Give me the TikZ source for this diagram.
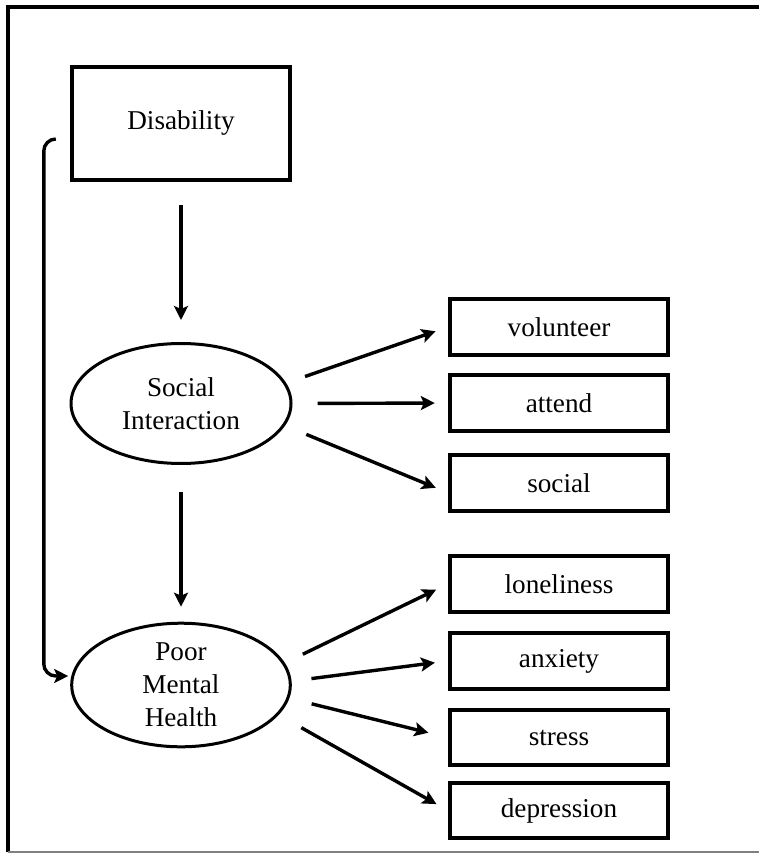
\documentclass[tikz,border=0pt]{standalone}
\usepackage{fontspec}
\setmainfont{Liberation Serif}
\usetikzlibrary{arrows.meta}
\usetikzlibrary{shapes.geometric}
\usetikzlibrary{positioning}

\begin{document}
\begin{tikzpicture}
  [
    x=0.5pt, y=-0.5pt,
    line width=1.7pt,
    >={Stealth[length=7pt,width=7pt,inset=1.5pt]},
    factor/.style    = {draw, rectangle, minimum width=109.3pt, minimum height=56.8pt, inner sep=0pt, line width=1.9pt},
    latent/.style    = {draw, ellipse, minimum width=110pt, minimum height=60pt, inner sep=0pt, align=center, line width=1.5pt},
    indicator/.style = {draw, rectangle, minimum width=109.3pt, minimum height=27.8pt, inner sep=0pt, line width=1.9pt},
    effect/.style    = {->, shorten <=10pt, shorten >=6.5pt},
  ]

  \tikzstyle{every node}=[font=\fontsize{13.6}{16.5}\selectfont]

  % the frame
  \def\fl{8}
  \def\ft{7}
  \useasboundingbox (0,0) rectangle (759,854);
  \draw[line width=2pt] (\fl,\ft) -- (759,\ft);
  \draw[line width=2pt] (\fl,\ft-2) -- (\fl,852);
  \draw[line width=0.6pt, gray] (\fl,852) -- (759,852);

  % the model
  \def\col{181}
  \node (dis) at (\col,123.5) [factor] {Disability};
  \node (si) at (\col,403.5) [latent] {Social\\Interaction};
  \node (pmh) at (\col,685) [latent, minimum width=109.3pt, minimum height=61.8pt] {Poor\\Mental\\Health};

  % the indicators
  \def\ind{559}
  \node (vol) at (\ind,327) [indicator] {volunteer};
  \node (att) at (\ind,403) [indicator] {attend};
  \node (soc) at (\ind,483) [indicator] {social};
  \node (lon) at (\ind,584) [indicator] {loneliness};
  \node (anx) at (\ind,661) [indicator] {anxiety};
  \node (str) at (\ind,737.5) [indicator] {stress};
  \node (dep) at (\ind,810.5) [indicator] {depression};

  \draw[effect, shorten <=11.5pt, shorten >=11pt] (dis.south) -- (si.north);
  \draw[effect, shorten <=13.5pt, shorten >=7.5pt] (si.south) -- (pmh.north);
  \draw[->, rounded corners=6pt] ([xshift=-7pt, yshift=-7.75pt]dis.west) -- ++(-12,0) |- ([xshift=-1pt, yshift=4.5pt]pmh.west);

  \draw[effect] (si.11) -- (vol.west);
  \draw[effect, shorten <=12.5pt] (si.east) -- (att.west);
  \draw[effect, shorten <=11.5pt] (si.-12) -- (soc.185);

  \draw[effect] (pmh.12) -- (lon.west);
  \draw[effect] (pmh.2) -- (anx.west);
  \draw[effect, shorten <=11.5pt, shorten >=10pt] (pmh.-7) -- (str.west);
  \draw[effect, shorten <=13pt] (pmh.-17) -- (dep.west);

\end{tikzpicture}
\end{document}
